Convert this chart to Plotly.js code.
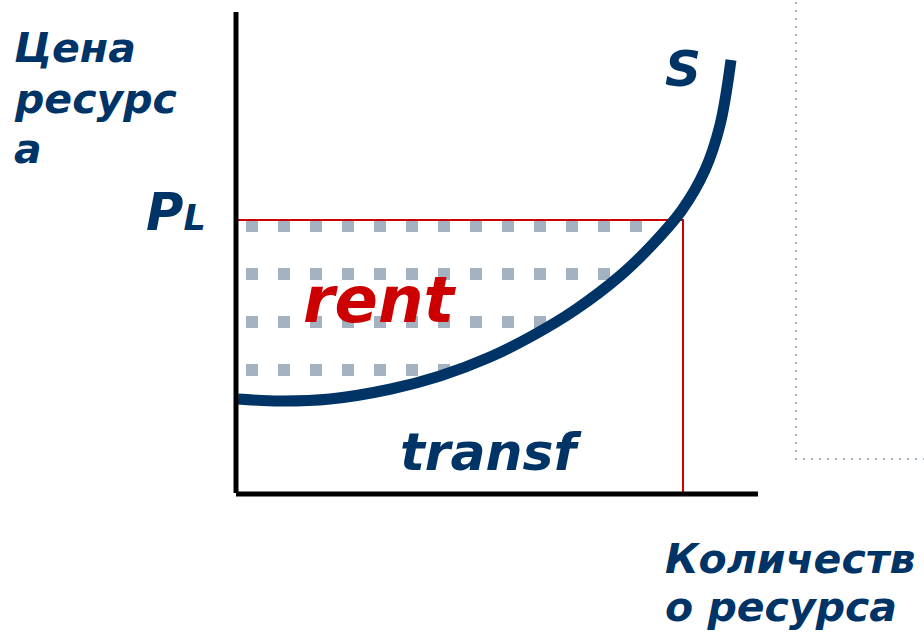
<!DOCTYPE html>
<html>
<head>
<meta charset="utf-8">
<script src="https://cdn.plot.ly/plotly-3.0.1.min.js"></script>
<style>html,body{margin:0;padding:0;background:#fff;}#chart{width:924px;height:632px;}</style>
</head>
<body>
<div id="chart"></div>
<script>
// Supply curve S (quantity Q, price P), origin at the axes corner
var curveQ = [2, 44, 94, 155, 204, 254, 296, 339, 385, 416, 446, 469, 484, 495];
var curveP = [95, 93, 95, 105, 118, 137, 158, 184, 219, 249, 284, 324, 369, 434];

// Equilibrium price P_L and quantity
var priceL = 274;
var quantityL = 447;

// Axis extents
var xAxisEnd = 522;
var yAxisEnd = 482;

// Dotted "rent" grid rows
var dotRowP = [268, 220, 172, 124];
var dotRowCount = [13, 12, 10, 7];
var dotQ = [16, 48, 80, 112, 144, 176, 208, 240, 272, 304, 336, 368, 400];

// Right-hand dotted frame
var frameQ = 560;
var frameP = 35;

// Text labels
var labelYTitle = ["Цена", "ресурс", "а"];
var labelXTitle = ["Количеств", "о ресурса"];
var labelPL = "P<span style='font-size:35px'>L</span>";
var labelS = "S";
var labelRent = "rent";
var labelTransf = "transf";

var navy = "#003366";
var red = "#cc0000";
var dotGrey = "#a3b1c1";
var fontFam = "DejaVu Sans, Verdana, sans-serif";

var traces = [];

// dotted grid
for (var r = 0; r < dotRowP.length; r++) {
  var xs = dotQ.slice(0, dotRowCount[r]);
  var ys = xs.map(function () { return dotRowP[r]; });
  traces.push({
    x: xs, y: ys, mode: "markers", type: "scatter", hoverinfo: "skip",
    marker: {symbol: "square", size: 12, color: dotGrey, line: {width: 0}}
  });
}

// red guide lines
traces.push({
  x: [0, quantityL, quantityL], y: [priceL, priceL, 0],
  mode: "lines", type: "scatter", hoverinfo: "skip",
  line: {color: red, width: 2}
});

// supply curve
traces.push({
  x: curveQ, y: curveP, mode: "lines", type: "scatter", hoverinfo: "skip",
  line: {color: navy, width: 11, shape: "spline", smoothing: 1}
});

// right dotted frame
traces.push({
  x: [frameQ, frameQ, 690], y: [500, frameP, frameP],
  mode: "lines", type: "scatter", hoverinfo: "skip",
  line: {color: dotGrey, width: 2, dash: "2px,6px"}
});

// axes (black)
traces.push({
  x: [0, 0], y: [1, yAxisEnd], mode: "lines", type: "scatter", hoverinfo: "skip",
  line: {color: "#000", width: 5}
});
traces.push({
  x: [0, xAxisEnd], y: [0, 0], mode: "lines", type: "scatter", hoverinfo: "skip",
  line: {color: "#000", width: 5}
});

function ann(text, x, y, size, color) {
  return {
    text: text, x: x, y: y, xref: "x", yref: "y",
    xanchor: "left", yanchor: "middle", showarrow: false,
    font: {family: fontFam, size: size, color: color, weight: "bold", style: "italic"}
  };
}

var annotations = [
  ann(labelYTitle[0], -224, 446, 41, navy),
  ann(labelYTitle[1], -224, 395, 41, navy),
  ann(labelYTitle[2], -224, 345, 41, navy),
  ann(labelXTitle[0], 427, -65, 41, navy),
  ann(labelXTitle[1], 427, -113, 41, navy),
  ann(labelPL, -92, 282, 51, navy),
  ann(labelS, 427, 425, 50, navy),
  ann(labelRent, 65, 194, 64, red),
  ann(labelTransf, 162, 42, 52, navy)
];

var layout = {
  width: 924, height: 632,
  margin: {l: 0, r: 0, t: 0, b: 0, pad: 0},
  paper_bgcolor: "#fff", plot_bgcolor: "#fff",
  showlegend: false,
  xaxis: {range: [-236, 688], visible: false, fixedrange: true},
  yaxis: {range: [-138, 494], visible: false, fixedrange: true},
  annotations: annotations
};

Plotly.newPlot("chart", traces, layout, {staticPlot: true, displayModeBar: false});
</script>
</body>
</html>
